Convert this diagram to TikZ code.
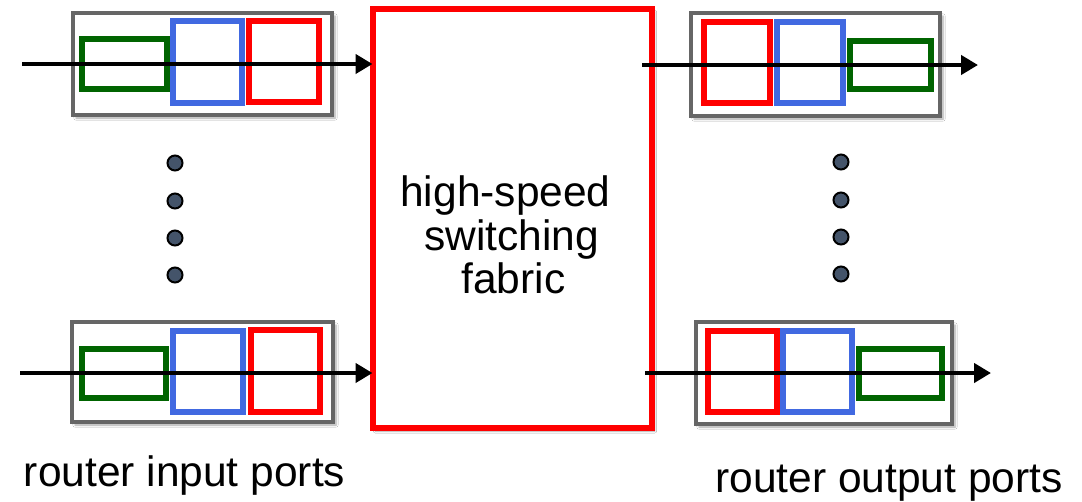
\documentclass[tikz,border=0pt]{standalone}
\usepackage{fontspec}
\setmainfont{Liberation Sans}
\usetikzlibrary{shadows.blur,arrows.meta}
\definecolor{portgray}{HTML}{666666}
\definecolor{qgreen}{HTML}{006400}
\definecolor{qblue}{HTML}{4169E1}
\definecolor{qred}{HTML}{FF0000}
\definecolor{dotfill}{HTML}{44546A}
\tikzset{
  portbox/.style={draw=portgray, line width=3.6pt, fill=white, inner sep=0pt, outer sep=0pt,
    blur shadow={shadow xshift=3pt, shadow yshift=-3pt, shadow blur steps=6, shadow opacity=35}},
  qbox/.style={draw=#1, line width=5.6pt, inner sep=0pt, outer sep=0pt},
  fabricbox/.style={draw=qred, line width=6pt, fill=white, inner sep=0pt, outer sep=0pt,
    blur shadow={shadow xshift=3pt, shadow yshift=-3pt, shadow blur steps=6, shadow opacity=35}},
  flow/.style={draw=black, line width=4.8pt, -{Triangle[length=17pt,width=19pt]}},
  dot/.style={circle, draw=black, line width=2pt, fill=dotfill, minimum size=15pt, inner sep=0pt},
  lbl/.style={font=\fontsize{42.5}{43.5}\selectfont, inner sep=0pt, align=center}
}
\begin{document}
\begin{tikzpicture}[x=1pt,y=-1pt]
\useasboundingbox (0,0) rectangle (1082,501);
\fill[white] (0,0) rectangle (1082,501);
% fabric
\node[fabricbox, minimum width=279pt, minimum height=419pt] (fabric) at (512,218.5) {};
\node[lbl] (fabtext) at (511.5,235) {high-speed\hspace*{12pt}\\switching\\\hspace*{4pt}fabric};
% top-left input port
\node[portbox, minimum width=259pt, minimum height=102pt] (in1) at (202.5,64) {};
\node[qbox=qgreen, minimum width=85pt, minimum height=50pt] (in1g) at (124.5,64) {};
\node[qbox=qblue, minimum width=69pt, minimum height=82pt] (in1b) at (207.5,62) {};
\node[qbox=qred, minimum width=70pt, minimum height=81pt] (in1r) at (284,61.5) {};
\coordinate (in1s) at (22,64);
\draw[flow] (in1s) -- (fabric.west |- in1s);
% bottom-left input port
\node[portbox, minimum width=261pt, minimum height=100pt] (in2) at (202.5,372) {};
\node[qbox=qgreen, minimum width=84pt, minimum height=49pt] (in2g) at (124,373.5) {};
\node[qbox=qblue, minimum width=70pt, minimum height=81pt] (in2b) at (208,371.5) {};
\node[qbox=qred, minimum width=69pt, minimum height=82pt] (in2r) at (285.5,371) {};
\coordinate (in2s) at (20,373);
\draw[flow] (in2s) -- (fabric.west |- in2s);
% top-right output port
\node[portbox, minimum width=249pt, minimum height=103pt] (out1) at (815.5,64.5) {};
\node[qbox=qred, minimum width=66pt, minimum height=81pt] (out1r) at (737,62.5) {};
\node[qbox=qblue, minimum width=66pt, minimum height=81pt] (out1b) at (810,62.5) {};
\node[qbox=qgreen, minimum width=81pt, minimum height=48pt] (out1g) at (890.5,65) {};
\coordinate (out1s) at (642,65);
\coordinate (out1e) at (978,65);
\draw[flow] (out1s) -- (out1e);
% bottom-right output port
\node[portbox, minimum width=256pt, minimum height=102pt] (out2) at (824,373) {};
\node[qbox=qred, minimum width=69pt, minimum height=81pt] (out2r) at (742.5,371.5) {};
\node[qbox=qblue, minimum width=69pt, minimum height=81pt] (out2b) at (817.5,371.5) {};
\node[qbox=qgreen, minimum width=83pt, minimum height=49pt] (out2g) at (900.5,373.5) {};
\coordinate (out2s) at (645,373);
\coordinate (out2e) at (991,373);
\draw[flow] (out2s) -- (out2e);
% dots
\foreach \i/\yy in {1/163,2/201,3/238,4/275} {
  \node[dot] (ldot\i) at (175,\yy) {};
  \node[dot] (rdot\i) at (841,\yy-1) {};
}
% labels
\node[lbl, anchor=base] (inlabel) at (184.5,486) {router input ports};
\node[lbl, anchor=base] (outlabel) at (889,492) {router output ports};
\end{tikzpicture}
\end{document}
